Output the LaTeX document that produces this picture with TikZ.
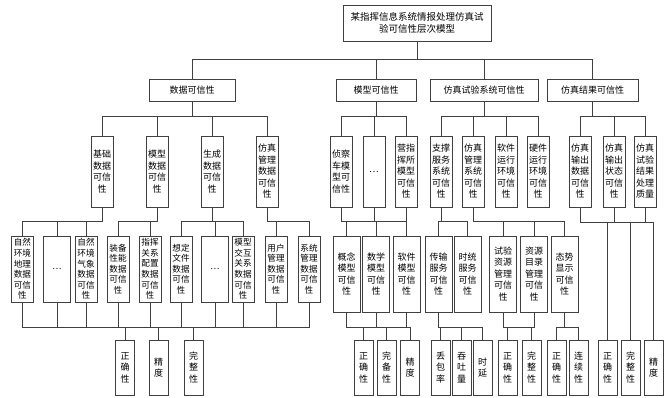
\documentclass[tikz,border=0pt]{standalone}
\usepackage{fontspec}
\setmainfont{Noto Sans CJK SC}
\begin{document}
\begin{tikzpicture}[x=1pt,y=-1pt,
  bx/.style n args={2}{draw=black!75, line width=0.8pt, fill=white,
    minimum width=#1pt, minimum height=#2pt, text width=#1pt,
    inner sep=0pt, align=center, font=\fontsize{9}{11.5}\selectfont},
  sm/.style={font=\fontsize{8.6}{10.6}\selectfont},
  ln/.style={draw=black!75, line width=0.8pt}]
\path[use as bounding box, fill=white] (0,0) rectangle (669,397);
\newcommand{\cnx}[3]{\draw[ln] (#1.south) -- (#1.south |- #3) -| (#2.north);}
\coordinate (y1) at (0,59);
\coordinate (y2) at (0,116);
\coordinate (y3) at (0,221);
\coordinate (y3r) at (0,222);
\coordinate (y4) at (0,327);
% root
\node[bx={148}{36}, font=\fontsize{9.5}{12.5}\selectfont] (root) at (417,23) {某指挥信息系统情报处理仿真试\\验可信性层次模型};
% level 1
\node[bx={86}{22}] (A) at (192,90) {数据可信性};
\node[bx={80}{22}] (B) at (376,90) {模型可信性};
\node[bx={108}{22}] (C) at (484,90) {仿真试验系统可信性};
\node[bx={91}{22}] (D) at (592.5,90) {仿真结果可信性};
% level 2
\node[bx={22}{71}] (a1) at (102,171.5) {基础\\数据\\可信\\性};
\node[bx={22}{71}] (a2) at (157,171.5) {模型\\数据\\可信\\性};
\node[bx={22}{71}] (a3) at (212,171.5) {生成\\数据\\可信\\性};
\node[bx={22}{71}] (a4) at (267,171.5) {仿真\\管理\\数据\\可信\\性};
\node[bx={22}{71}] (b1) at (341,171.5) {侦察\\车模\\型可\\信性};
\node[bx={22}{71}] (b2) at (374,171.5) {…};
\node[bx={22}{71}] (b3) at (406,171.5) {营指\\挥所\\模型\\可信\\性};
\node[bx={22}{71}] (c1) at (441,171.5) {支撑\\服务\\系统\\可信\\性};
\node[bx={22}{71}] (c2) at (473,171.5) {仿真\\管理\\系统\\可信\\性};
\node[bx={22}{71}] (c3) at (506,171.5) {软件\\运行\\环境\\可信\\性};
\node[bx={22}{71}] (c4) at (538,171.5) {硬件\\运行\\环境\\可信\\性};
\node[bx={22}{71}] (d1) at (580,171.5) {仿真\\输出\\数据\\可信\\性};
\node[bx={22}{71}] (d2) at (614,171.5) {仿真\\输出\\状态\\可信\\性};
\node[bx={22}{71}] (d3) at (645,171.5) {仿真\\试验\\结果\\处理\\质量};
% level 3 data
\node[bx={22}{66}, sm] (a11) at (22.5,269) {自然\\环境\\地理\\数据\\可信\\性};
\node[bx={27}{66}, sm] (a12) at (57,269) {…};
\node[bx={22}{66}, sm] (a13) at (86,269) {自然\\环境\\气象\\数据\\可信\\性};
\node[bx={22}{66}, sm] (a21) at (118,269) {装备\\性能\\数据\\可信\\性};
\node[bx={22}{66}, sm] (a22) at (150,269) {指挥\\关系\\配置\\数据\\可信\\性};
\node[bx={22}{66}, sm] (a31) at (181,269) {想定\\文件\\数据\\可信\\性};
\node[bx={27}{66}, sm] (a32) at (215,269) {…};
\node[bx={22}{66}, sm] (a33) at (243,269) {模型\\交互\\关系\\数据\\可信\\性};
\node[bx={22}{66}, sm] (a41) at (276,269) {用户\\管理\\数据\\可信\\性};
\node[bx={22}{66}, sm] (a42) at (309,269) {系统\\管理\\数据\\可信\\性};
% level 3 model / system
\node[bx={27}{76}] (bb1) at (346.5,274) {概念\\模型\\可信\\性};
\node[bx={27}{76}] (bb2) at (376,274) {数学\\模型\\可信\\性};
\node[bx={27}{76}] (bb3) at (406.5,274) {软件\\模型\\可信\\性};
\node[bx={27}{76}] (c11) at (438.5,274) {传输\\服务\\可信\\性};
\node[bx={27}{76}] (c12) at (467.5,274) {时统\\服务\\可信\\性};
\node[bx={27}{76}] (c21) at (503,274) {试验\\资源\\管理\\可信\\性};
\node[bx={27}{76}] (c22) at (534,274) {资源\\目录\\管理\\可信\\性};
\node[bx={27}{76}] (c23) at (564.5,274) {态势\\显示\\可信\\性};
% level 4
\node[bx={19}{55}] (aq1) at (125,367.5) {正\\确\\性};
\node[bx={19}{55}] (aq2) at (158.5,367.5) {精\\度};
\node[bx={19}{55}] (aq3) at (193.5,367.5) {完\\整\\性};
\node[bx={19}{55}] (bq1) at (363.5,367.5) {正\\确\\性};
\node[bx={19}{55}] (bq2) at (386.5,367.5) {完\\备\\性};
\node[bx={19}{55}] (bq3) at (410,367.5) {精\\度};
\node[bx={19}{55}] (cq1) at (440.5,367.5) {丢\\包\\率};
\node[bx={19}{55}] (cq2) at (461.5,367.5) {吞\\吐\\量};
\node[bx={19}{55}] (cq3) at (482.5,367.5) {时\\延};
\node[bx={19}{55}] (cr1) at (507.5,367.5) {正\\确\\性};
\node[bx={19}{55}] (cr2) at (531.5,367.5) {完\\整\\性};
\node[bx={19}{55}] (cs1) at (556.5,367.5) {正\\确\\性};
\node[bx={19}{55}] (cs2) at (578.5,367.5) {连\\续\\性};
\node[bx={19}{55}] (dq1) at (607.5,367.5) {正\\确\\性};
\node[bx={19}{55}] (dq2) at (630.5,367.5) {完\\整\\性};
\node[bx={19}{55}] (dq3) at (653.5,367.5) {精\\度};
% connectors
\foreach \c in {A,B,C,D} {\cnx{root}{\c}{y1}}
\foreach \c in {a1,a2,a3,a4} {\cnx{A}{\c}{y2}}
\foreach \c in {b1,b2,b3} {\cnx{B}{\c}{y2}}
\foreach \c in {c1,c2,c3,c4} {\cnx{C}{\c}{y2}}
\foreach \c in {d1,d2,d3} {\cnx{D}{\c}{y2}}
\foreach \c in {a11,a12,a13} {\cnx{a1}{\c}{y3}}
\foreach \c in {a21,a22} {\cnx{a2}{\c}{y3}}
\foreach \c in {a31,a32,a33} {\cnx{a3}{\c}{y3}}
\foreach \c in {a41,a42} {\cnx{a4}{\c}{y3}}
\foreach \p in {b1,b2,b3} {\foreach \c in {bb1,bb2,bb3} {\cnx{\p}{\c}{y3}}}
\foreach \c in {c11,c12} {\cnx{c1}{\c}{y3}}
\foreach \c in {c21,c22,c23} {\cnx{c2}{\c}{y3}}
\foreach \p in {d1,d2,d3} {\foreach \c in {dq1,dq2,dq3} {\cnx{\p}{\c}{y3r}}}
\foreach \p in {a11,a12,a13,a21,a22,a31,a32,a33,a41,a42} {\foreach \c in {aq1,aq2,aq3} {\cnx{\p}{\c}{y4}}}
\foreach \p in {bb1,bb2,bb3} {\foreach \c in {bq1,bq2,bq3} {\cnx{\p}{\c}{y4}}}
\foreach \c in {cq1,cq2,cq3} {\cnx{c11}{\c}{y4}}
\foreach \p in {c21,c22} {\foreach \c in {cr1,cr2} {\cnx{\p}{\c}{y4}}}
\foreach \c in {cs1,cs2} {\cnx{c23}{\c}{y4}}
\end{tikzpicture}
\end{document}
